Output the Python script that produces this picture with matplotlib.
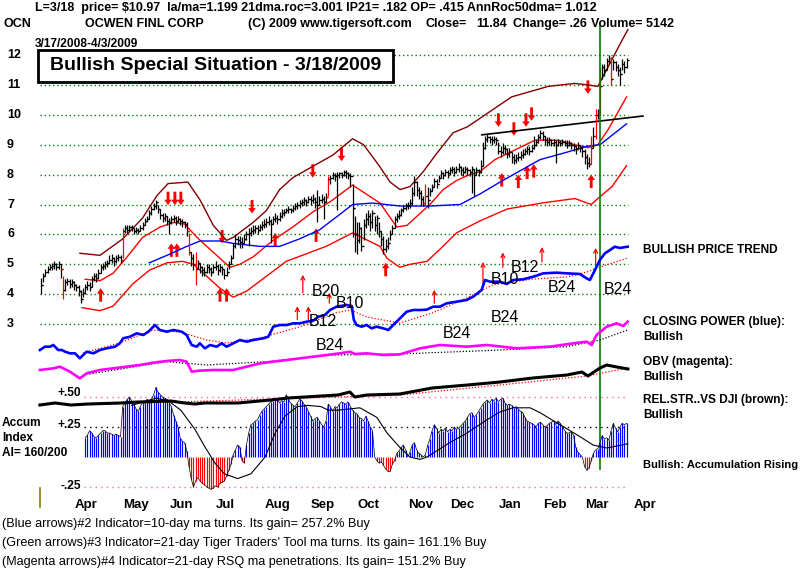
import numpy as np
import pandas as pd
import matplotlib
matplotlib.use("Agg")
import matplotlib.pyplot as plt
import matplotlib.transforms as mtrans
from matplotlib.patches import Rectangle
from matplotlib.lines import Line2D

W, H = 800, 571
BOLD = ["Liberation Sans", "DejaVu Sans"]

# trading calendar 3/17/2008 - 4/3/2009
holidays = ["2008-03-21", "2008-05-26", "2008-07-04", "2008-09-01", "2008-11-27",
            "2008-12-25", "2009-01-01", "2009-01-19", "2009-02-16"]
days = pd.bdate_range("2008-03-17", "2009-04-03")
days = days[~days.isin(pd.to_datetime(holidays))]
signal_day = "2009-03-18"

# daily bars
closes = [
    4.3, 4.6, 4.75, 4.85, 4.9, 4.95, 5.0, 4.9, 5.0, 4.85,
    4.15, 4.4, 4.45, 4.35, 4.4, 4.3, 4.25, 4.1, 3.85, 4.05,
    4.25, 4.3, 4.25, 4.5, 4.6, 4.55, 4.7, 4.9, 4.95, 5.0,
    5.05, 5.15, 5.2, 5.1, 5.2, 5.25, 5.15, 6.1, 6.2, 6.15,
    6.25, 6.2, 6.1, 6.15, 6.1, 6.2, 6.3, 6.45, 6.5, 6.7,
    6.85, 6.95, 7.1, 6.85, 6.65, 6.55, 6.6, 6.45, 6.4, 6.5,
    6.55, 6.45, 6.5, 6.45, 6.4, 6.35, 6.1, 5.4, 5.2, 5.0,
    4.85, 5.05, 4.9, 4.8, 4.75, 4.9, 4.85, 4.75, 4.9, 4.95,
    4.8, 4.9, 4.85, 4.65, 4.75, 5.0, 5.2, 5.6, 5.85, 5.8,
    5.75, 5.7, 5.85, 6.0, 6.05, 6.1, 6.15, 6.2, 6.15, 6.25,
    6.3, 6.35, 6.4, 6.45, 6.35, 6.5, 6.55, 6.5, 6.6, 6.7,
    6.75, 6.8, 6.85, 6.8, 6.9, 6.95, 7.0, 7.05, 7.1, 7.15,
    7.1, 7.2, 7.15, 7.2, 7.1, 7.0, 7.15, 7.2, 7.1, 7.25,
    7.85, 7.9, 8.0, 7.95, 8.0, 8.05, 8.0, 8.1, 8.05, 8.0,
    7.95, 6.9, 6.0, 5.8, 6.2, 5.6, 6.3, 6.5, 6.6, 6.4,
    6.7, 6.3, 6.55, 6.1, 5.85, 5.5, 5.6, 5.7, 6.0, 6.2,
    6.5, 6.6, 6.65, 6.8, 6.9, 6.95, 7.0, 7.05, 7.4, 7.75,
    7.5, 7.4, 7.2, 7.05, 7.3, 7.15, 7.45, 7.6, 7.8, 7.7,
    7.9, 8.05, 8.0, 8.1, 8.05, 8.15, 8.2, 8.1, 8.2, 8.25,
    8.15, 8.1, 8.2, 8.15, 8.1, 8.2, 8.0, 8.15, 8.1, 8.3,
    8.9, 9.2, 9.25, 9.2, 9.15, 9.2, 9.15, 8.8, 8.75, 8.9,
    8.85, 8.7, 8.75, 8.6, 8.5, 8.55, 8.6, 8.65, 8.7, 8.8,
    8.85, 8.8, 8.9, 9.0, 9.1, 9.25, 9.4, 9.3, 9.15, 9.1,
    9.15, 9.05, 9.1, 9.0, 9.1, 9.05, 9.1, 9.05, 9.0, 9.05,
    9.0, 8.95, 8.85, 9.0, 8.9, 8.8, 8.6, 8.4, 8.35, 8.9,
    9.3, 10.0, 10.1, 10.97, 11.6, 11.5, 11.8, 11.9, 11.2, 11.75,
    11.6, 11.5, 11.35, 11.7, 11.6, 11.84,
]
highs = [
    4.55, 4.7, 4.85, 4.95, 5.0, 5.05, 5.1, 5.05, 5.1, 5.0,
    4.6, 4.5, 4.55, 4.5, 4.5, 4.45, 4.35, 4.3, 4.15, 4.2,
    4.35, 4.45, 4.4, 4.6, 4.7, 4.7, 4.85, 5.0, 5.05, 5.1,
    5.15, 5.3, 5.35, 5.25, 5.3, 5.35, 5.3, 6.2, 6.3, 6.3,
    6.3, 6.3, 6.2, 6.25, 6.2, 6.3, 6.4, 6.55, 6.6, 6.8,
    6.95, 7.05, 7.15, 7.0, 6.85, 6.7, 6.7, 6.6, 6.55, 6.6,
    6.65, 6.6, 6.6, 6.55, 6.5, 6.45, 6.4, 6.05, 5.4, 5.35,
    5.4, 5.15, 5.05, 4.95, 4.9, 5.0, 5.0, 4.9, 5.0, 5.1,
    5.0, 5.0, 4.95, 4.85, 4.9, 5.1, 5.3, 5.7, 6.0, 5.95,
    5.95, 5.9, 6.0, 6.1, 6.2, 6.25, 6.3, 6.3, 6.3, 6.35,
    6.45, 6.5, 6.55, 6.6, 6.5, 6.6, 6.7, 6.65, 6.75, 6.85,
    6.85, 6.9, 6.95, 6.9, 7.0, 7.05, 7.1, 7.15, 7.2, 7.25,
    7.2, 7.3, 7.3, 7.35, 7.25, 7.5, 7.3, 7.35, 7.3, 7.4,
    7.95, 8.0, 8.1, 8.05, 8.1, 8.1, 8.1, 8.15, 8.15, 8.1,
    8.05, 7.7, 6.6, 6.4, 6.4, 6.25, 6.5, 6.7, 6.8, 6.7,
    6.8, 6.6, 6.65, 6.4, 6.1, 5.95, 5.85, 5.9, 6.15, 6.3,
    6.6, 6.7, 6.8, 6.9, 7.0, 7.05, 7.1, 7.2, 7.6, 7.95,
    7.8, 7.6, 7.5, 7.3, 7.7, 7.6, 7.55, 7.7, 7.9, 7.85,
    8.0, 8.15, 8.1, 8.2, 8.15, 8.25, 8.3, 8.25, 8.3, 8.4,
    8.3, 8.25, 8.3, 8.25, 8.2, 8.3, 8.2, 8.25, 8.2, 8.5,
    9.1, 9.3, 9.35, 9.3, 9.3, 9.3, 9.25, 9.1, 8.95, 9.05,
    9.0, 8.9, 8.9, 8.75, 8.7, 8.7, 8.75, 8.8, 8.85, 8.9,
    8.95, 8.95, 9.0, 9.3, 9.2, 9.35, 9.5, 9.45, 9.3, 9.25,
    9.25, 9.2, 9.2, 9.15, 9.2, 9.15, 9.2, 9.15, 9.15, 9.15,
    9.1, 9.05, 9.0, 9.1, 9.0, 8.95, 8.85, 8.7, 8.6, 9.3,
    9.6, 10.2, 10.2, 11.55, 11.7, 11.7, 11.9, 12.0, 11.95, 11.85,
    11.8, 11.7, 11.6, 11.85, 11.8, 11.9,
]
lows = [
    4.0, 4.4, 4.6, 4.7, 4.8, 4.8, 4.85, 4.8, 4.85, 4.55,
    3.85, 4.1, 4.3, 4.2, 4.25, 4.15, 4.1, 3.95, 3.7, 3.9,
    4.0, 4.15, 4.1, 4.25, 4.45, 4.4, 4.5, 4.7, 4.8, 4.85,
    4.9, 5.0, 5.05, 4.95, 5.05, 5.1, 5.05, 5.2, 6.05, 6.05,
    6.1, 6.1, 6.0, 6.05, 6.0, 6.1, 6.15, 6.3, 6.4, 6.5,
    6.65, 6.8, 6.85, 6.7, 6.5, 6.4, 6.45, 6.3, 6.0, 6.35,
    6.4, 6.3, 6.4, 6.3, 6.25, 6.2, 5.95, 5.3, 4.95, 4.8,
    4.3, 4.85, 4.7, 4.6, 4.6, 4.7, 4.7, 4.6, 4.7, 4.8,
    4.65, 4.75, 4.65, 4.5, 4.6, 4.85, 5.0, 5.2, 5.55, 5.65,
    5.55, 5.55, 5.7, 5.8, 5.6, 5.95, 6.0, 6.05, 6.0, 6.1,
    6.15, 6.2, 6.25, 6.3, 5.7, 6.35, 6.4, 6.35, 6.45, 6.55,
    6.6, 6.7, 6.7, 6.7, 6.75, 6.8, 6.85, 6.9, 6.95, 7.0,
    6.95, 7.05, 7.0, 7.05, 6.9, 6.4, 7.0, 7.05, 6.5, 7.1,
    7.3, 7.7, 7.85, 7.8, 6.8, 7.9, 7.9, 7.95, 7.9, 7.85,
    7.6, 5.9, 5.4, 5.35, 5.7, 5.45, 5.8, 6.2, 6.3, 6.1,
    6.2, 6.1, 6.0, 5.9, 5.6, 5.35, 5.4, 5.5, 5.8, 6.0,
    6.2, 6.4, 6.5, 6.6, 6.75, 6.8, 6.85, 6.9, 7.0, 7.3,
    7.3, 7.2, 7.0, 6.95, 7.0, 6.9, 7.3, 7.45, 7.6, 7.55,
    7.75, 7.9, 7.85, 7.95, 7.9, 8.0, 8.05, 7.95, 8.05, 8.1,
    8.0, 7.95, 8.05, 8.0, 7.95, 7.4, 7.3, 8.0, 7.95, 8.05,
    8.3, 8.85, 9.1, 9.05, 9.0, 9.05, 9.0, 8.7, 8.6, 8.7,
    8.7, 8.55, 8.6, 8.4, 8.35, 8.4, 8.45, 8.5, 8.55, 8.65,
    8.7, 8.65, 8.75, 8.85, 8.95, 9.05, 9.2, 9.15, 9.0, 8.95,
    9.0, 8.95, 8.95, 8.4, 8.95, 8.95, 9.0, 8.95, 8.9, 8.95,
    8.85, 8.8, 8.7, 8.85, 8.75, 8.6, 8.35, 8.2, 8.25, 8.35,
    8.9, 9.2, 9.85, 10.0, 11.2, 11.3, 11.5, 11.7, 11.0, 11.5,
    11.45, 11.3, 11.0, 11.5, 11.4, 11.55,
]
red_bars = [10, 37, 67, 70, 130, 174, 249, 251, 253, 258]

# bands around price (day index, price)
upper_x = [17.6, 26.7, 37, 46, 52.5, 57.5, 66.5, 72, 78, 84, 87, 91.5, 96, 102, 108, 114, 120, 132,
           141, 146, 153, 158, 162.5, 167, 173, 179, 186.5, 193, 201, 213, 229.5, 241.5, 247.5, 252, 263, 265.6]
upper_y = [5.37, 5.3, 5.85, 6.55, 7.3, 7.7, 7.75, 7.15, 6.3, 5.8, 5.9, 6.15, 6.4, 6.8, 7.5, 7.9, 8.15, 8.65,
           9.2, 9.0, 8.3, 7.75, 7.5, 7.6, 8.1, 8.7, 9.4, 9.6, 10.0, 10.6, 10.95, 11.05, 11.0, 10.95, 12.5, 12.85]
inner_x = [20, 26.7, 32.6, 39, 46, 54, 60, 65, 70.6, 78, 85.5, 90, 96, 105, 114, 123, 131, 141,
           153.4, 161, 165.6, 171.5, 176, 182, 188, 194, 198.6, 205.4, 211, 223.5, 234, 241.6, 247.5, 252, 256.6, 265]
inner_y = [4.5, 4.45, 4.7, 5.25, 5.9, 6.25, 6.4, 6.35, 5.9, 5.4, 4.9, 5.0, 5.25, 5.8, 6.25, 6.75, 7.1, 7.65,
           7.05, 6.25, 6.3, 6.7, 7.0, 7.5, 7.8, 8.0, 8.1, 8.5, 8.7, 9.15, 9.15, 9.0, 8.9, 9.0, 9.5, 10.6]
ma50_x = [49, 57, 66, 72, 81, 87, 99, 108, 117, 126, 134, 141, 150, 162.4, 176, 189.6, 198.6, 207.7,
          225.8, 238, 247, 253, 265]
ma50_y = [5.05, 5.3, 5.6, 5.78, 5.78, 5.7, 5.6, 5.6, 5.85, 6.15, 6.6, 7.0, 7.05, 6.95, 6.95, 7.0, 7.35, 7.75,
          8.5, 8.75, 8.95, 9.0, 9.7]
lower_x = [18.6, 26.7, 32.6, 41.6, 49, 57, 64, 69, 75, 81, 87, 93, 102, 111, 120, 129, 141, 153.4,
           156.6, 162.4, 167, 174.7, 180.5, 188, 198.6, 211, 226.7, 241.6, 249, 252, 258.4, 265]
lower_y = [3.55, 3.45, 3.6, 4.35, 4.8, 5.05, 5.1, 5.0, 4.6, 4.2, 3.9, 4.1, 4.6, 5.1, 5.35, 5.6, 6.05, 5.6,
           5.2, 4.9, 5.0, 5.1, 5.5, 6.05, 6.45, 6.85, 7.05, 7.2, 7.0, 7.2, 7.6, 8.3]
trend_x = [199.5, 272.4]
trend_y = [9.33, 9.96]

# signal arrows
buy_x = [27, 59, 61.5, 81, 84, 106, 124.5, 156, 208.5, 216, 220, 223, 249]
buy_tip = [4.2, 5.7, 5.7, 4.2, 4.2, 6.05, 6.2, 5.05, 8.05, 8.0, 8.3, 8.35, 8.0]
sell_x = [57.5, 60.6, 63.3, 82, 95.5, 123, 136, 207, 214, 219.5, 222, 247.5]
sell_tip = [6.98, 6.98, 6.98, 5.7, 6.7, 7.9, 8.45, 9.6, 9.3, 9.6, 9.8, 10.7]
thin_x = [116, 118.5, 121, 130.5, 178, 200, 209, 226.7, 251]
thin_tip = [3.6, 4.65, 3.6, 4.05, 4.15, 5.08, 5.4, 5.58, 5.55]
thin_base = [3.15, 4.05, 3.15, 3.7, 3.7, 4.4, 4.9, 5.08, 4.9]

# closing power
cp_x = [-0.45, 1.8, 4.1, 5.6, 7.8, 9.4, 10.9, 13.1, 15.4, 17.6,
        19.1, 20.7, 23.7, 26.7, 29.7, 33.5, 35.7, 37.2, 40.3, 43.3,
        46.3, 48.6, 51.6, 53.8, 56.9, 59.9, 63.7, 65.9, 68.2, 70.5,
        71.9, 74.2, 76.5, 79.5, 81.8, 84.0, 87.0, 90.0, 93.1, 96.1,
        100.6, 102.9, 105.1, 108.1, 111.2, 114.2, 117.2, 120.2, 123.2, 125.5,
        128.5, 130.8, 133.8, 138.3, 140.6, 141.6, 142.8, 145.1, 147.4, 149.6,
        151.9, 154.9, 157.2, 159.4, 161.7, 165.5, 168.5, 171.5, 174.5, 177.5,
        180.5, 183.6, 188.1, 192.6, 195.6, 199.4, 200.9, 203.2, 207.7, 210.7,
        213.7, 218.2, 222.8, 227.3, 233.3, 237.9, 243.9, 246.9, 248.4, 250.7,
        252.9, 255.2, 257.5, 259.7, 262.0, 265.5]
cp_y = [2.5, 3.33, 3.33, 3.75, 2.5, 2.5, 2.08, 1.67, 1.67, 0.42,
        1.25, 2.08, 1.67, 2.5, 2.92, 3.33, 4.17, 5.42, 5.83, 6.67,
        6.25, 7.08, 8.75, 7.5, 7.08, 7.5, 7.08, 6.25, 3.75, 3.33,
        4.17, 2.92, 3.75, 3.33, 4.17, 3.33, 4.17, 5.0, 4.58, 5.0,
        5.42, 5.83, 8.33, 8.75, 8.75, 9.17, 9.17, 9.58, 9.83, 10.83,
        11.25, 12.5, 13.33, 13.75, 13.5, 10.0, 8.75, 8.33, 8.75, 7.92,
        8.33, 7.92, 7.5, 8.75, 10.0, 12.08, 12.5, 12.5, 12.58, 13.33,
        13.33, 14.17, 14.58, 15.0, 15.83, 17.5, 20.0, 19.58, 19.58, 19.0,
        20.0, 20.17, 20.83, 21.67, 21.83, 21.67, 21.5, 20.42, 20.0, 22.5,
        25.0, 26.67, 27.5, 28.33, 28.0, 28.33]
cp_ma_x = [19, 35.7, 50.7, 62.9, 75, 84, 99, 117, 133, 140, 147.5, 154.8, 162.4, 177, 192.6, 204.4,
           222.6, 238, 247, 253, 265.6]
cp_ma_y = [1.75, 4.25, 7.5, 7.0, 5.0, 4.25, 5.5, 8.25, 11.75, 12.5, 10.75, 10.0, 9.25, 11.75, 15.5, 18.75,
           20.25, 20.75, 22.0, 23.25, 25.5]

# on-balance volume
obv_x = [-0.45, 5.6, 8.6, 13.1, 17.6, 20.7, 26.7, 32.7, 38.8, 44.8,
         50.8, 56.9, 62.9, 65.9, 68.2, 71.9, 78.0, 87.0, 93.1, 99.1,
         105.1, 111.2, 117.2, 123.2, 129.3, 135.3, 139.8, 142.1, 147.4, 154.9,
         162.4, 171.5, 180.5, 192.6, 201.7, 215.3, 230.3, 240.9, 246.9, 249.2,
         251.4, 256.0, 260.5, 263.5, 265.5]
obv_y = [5.0, 5.83, 6.67, 4.17, 0.83, 3.33, 5.0, 5.83, 6.67, 7.5,
         8.67, 9.5, 10.0, 9.17, 4.17, 4.67, 5.0, 5.0, 6.67, 8.33,
         9.17, 10.0, 10.83, 11.67, 12.5, 13.33, 14.17, 13.0, 13.33, 12.5,
         12.8, 15.83, 17.5, 16.67, 17.5, 15.83, 16.67, 18.33, 19.17, 17.5,
         22.5, 26.67, 28.33, 27.0, 29.17]
obv_ma_x = [19.1, 56.9, 75.0, 102.1, 132.0, 162.4, 207.7, 237.9, 252.9, 265.5]
obv_ma_y = [2.5, 9.17, 7.5, 9.17, 12.5, 13.0, 15.0, 16.67, 20.0, 25.0]

# relative strength vs DJI
rs_x = [-0.5, 6.3, 13.6, 21.3, 36, 44, 58.8, 65, 69.7, 74, 89, 104, 111.8, 119.5, 126.7, 134.4,
        139.8, 142, 147.5, 162.4, 177, 193, 207.7, 222.6, 238, 244.8, 247.5, 253, 256, 260.6, 265.6]
rs_y = [7.5, 8.5, 7.5, 8.0, 8.5, 9.0, 9.5, 8.5, 8.0, 8.5, 8.5, 10.0, 11.0, 11.5, 12.0, 12.5,
        14.0, 11.5, 12.5, 13.0, 16.0, 17.5, 19.0, 21.0, 22.5, 24.0, 22.0, 26.0, 27.5, 26.5, 25.5]
rs_ma_x = [17, 134, 162.4, 207.7, 247, 265.6]
rs_ma_y = [7.5, 11.5, 12.5, 17.5, 22.0, 26.0]

# accumulation index, daily from day 20
ai_start = 20
ai = [
    0.16, 0.18, 0.22, 0.20, 0.17, 0.16, 0.18, 0.20, 0.22, 0.22,
    0.20, 0.20, 0.19, 0.18, 0.19, 0.18, 0.17, 0.42, 0.45, 0.48,
    0.50, 0.47, 0.44, 0.40, 0.38, 0.42, 0.46, 0.45, 0.48, 0.47,
    0.48, 0.52, 0.58, 0.54, 0.52, 0.50, 0.49, 0.48, 0.45, 0.42,
    0.35, 0.30, 0.25, 0.16, 0.13, 0.12, 0.05, -0.08, -0.18, -0.25,
    -0.20, -0.17, -0.20, -0.22, -0.23, -0.25, -0.26, -0.27, -0.26, -0.24,
    -0.25, -0.22, -0.21, -0.20, -0.16, -0.11, -0.06, 0.02, 0.06, 0.10,
    0.08, -0.03, -0.05, 0.10, 0.20, 0.27, 0.28, 0.30, 0.31, 0.35,
    0.38, 0.40, 0.42, 0.44, 0.46, 0.47, 0.48, 0.48, 0.45, 0.47,
    0.46, 0.52, 0.48, 0.45, 0.43, 0.42, 0.45, 0.48, 0.47, 0.44,
    0.42, 0.38, 0.34, 0.30, 0.32, 0.33, 0.30, 0.27, 0.25, 0.30,
    0.44, 0.42, 0.38, 0.42, 0.41, 0.44, 0.46, 0.45, 0.44, 0.46,
    0.42, 0.39, 0.37, 0.36, 0.33, 0.32, 0.30, 0.34, 0.30, 0.25,
    0.22, 0.00, -0.03, -0.05, -0.04, -0.07, -0.10, -0.12, -0.12, -0.06,
    -0.03, 0.03, 0.05, 0.08, 0.10, 0.06, 0.00, 0.04, 0.10, 0.12,
    0.06, 0.03, 0.02, 0.00, 0.02, 0.10, 0.15, 0.22, 0.27, 0.24,
    0.20, 0.23, 0.22, 0.24, 0.21, 0.23, 0.22, 0.25, 0.23, 0.24,
    0.26, 0.28, 0.30, 0.33, 0.36, 0.37, 0.33, 0.35, 0.38, 0.41,
    0.44, 0.46, 0.475, 0.45, 0.48, 0.47, 0.49, 0.46, 0.48, 0.49,
    0.45, 0.43, 0.44, 0.43, 0.41, 0.42, 0.40, 0.38, 0.37, 0.33,
    0.30, 0.29, 0.28, 0.27, 0.25, 0.28, 0.29, 0.27, 0.25, 0.26,
    0.28, 0.29, 0.30, 0.27, 0.30, 0.28, 0.25, 0.22, 0.20, 0.20,
    0.21, 0.18, 0.08, 0.04, 0.02, 0.00, -0.08, -0.11, -0.09, -0.03,
    0.03, 0.06, 0.07, 0.12, 0.18, 0.15, 0.16, 0.14, 0.22, 0.28,
    0.24, 0.21, 0.25, 0.28, 0.27, 0.28,
]
ai_ma_x = [41, 52, 57.5, 63.3, 69.7, 74, 78.7, 83, 86, 89, 95, 101.4, 106, 110.4, 116, 120.8, 126.7, 130,
           134.4, 144.3, 152, 156.6, 162.4, 167, 171.5, 174.7, 185, 192.8, 201.8, 207.7, 213.6, 221.3,
           225.8, 234.8, 243.9, 249.8, 256, 265.6]
ai_ma_y = [0.43, 0.49, 0.47, 0.39, 0.23, 0.09, -0.05, -0.14, -0.16, -0.18, -0.14, 0.0, 0.2, 0.34, 0.42,
           0.43, 0.42, 0.39, 0.39, 0.41, 0.33, 0.2, 0.08, 0.0, -0.02, 0.0, 0.12, 0.2, 0.31, 0.375, 0.41,
           0.41, 0.37, 0.27, 0.17, 0.1, 0.075, 0.11]

b_labels = ["B20", "B10", "B12", "B24", "B24", "B24", "B10", "B12", "B24", "B24"]
b_pos = [(326, 292), (350, 304), (323, 322), (330, 346), (457, 333), (505, 317),
         (505, 279), (525, 268), (562, 288), (618, 289)]

header1 = "L=3/18  price= $10.97  la/ma=1.199 21dma.roc=3.001 IP21= .182 OP= .415 AnnRoc50dma= 1.012"
header2 = [("OCN", 3), ("OCWEN FINL CORP", 85), ("(C) 2009 www.tigersoft.com", 248),
           ("Close=", 425), ("11.84", 476), ("Change= .26", 513), ("Volume= 5142", 591)]
footer = ["(Blue arrows)#2 Indicator=10-day ma turns. Its gain= 257.2% Buy",
          "(Green arrows)#3 Indicator=21-day Tiger Traders' Tool ma turns. Its gain= 161.1% Buy",
          "(Magenta arrows)#4 Indicator=21-day RSQ ma penetrations. Its gain= 151.2% Buy"]

fig = plt.figure(figsize=(W / 100, H / 100), dpi=100)
fig.patch.set_facecolor("white")


def overlay(lo, hi):
    a = fig.add_axes([35 / W, 1 - 490 / H, 615 / W, 470 / H])
    a.set_xlim(-2.7, 275.6)
    a.set_ylim(lo, hi)
    a.axis("off")
    return a


def put(x, y, s, **kw):
    kw.setdefault("va", "center")
    fig.text(x / W, 1 - y / H, s, **kw)


n = len(closes)
x = np.arange(n)
sig = days.get_loc(pd.Timestamp(signal_day))

# ---- price panel
ax = overlay(-2.548, 13.171)
ax.hlines(range(3, 13), -0.5, 265.6, colors="#008000", linestyles=(0, (1, 2)), lw=1)
ax.plot(upper_x, upper_y, color="#800000", lw=1)
ax.plot(inner_x, inner_y, color="#ff0000", lw=1)
ax.plot(lower_x, lower_y, color="#ff0000", lw=1)
ax.plot(ma50_x, ma50_y, color="#0000ff", lw=1)
ax.plot(trend_x, trend_y, color="black", lw=1.2)
cols = ["#ff0000" if i in red_bars else "black" for i in x]
ax.vlines(x, lows, highs, colors=cols, lw=0.9)
ax.hlines(closes, x, x + 0.9, colors=cols, lw=0.9)
ax.hlines(closes[:-1], x[1:] - 0.9, x[1:], colors=cols[1:], lw=0.9)
for bx, tip in zip(buy_x, buy_tip):
    ax.arrow(bx, tip - 0.45, 0, 0.45, width=1.3, head_width=3.4, head_length=0.18,
             length_includes_head=True, color="#ff0000", lw=0)
for sx, tip in zip(sell_x, sell_tip):
    ax.arrow(sx, tip + 0.45, 0, -0.45, width=1.3, head_width=3.4, head_length=0.18,
             length_includes_head=True, color="#ff0000", lw=0)
for tx, tip, base in zip(thin_x, thin_tip, thin_base):
    ax.annotate("", xy=(tx, tip), xytext=(tx, base),
                arrowprops=dict(arrowstyle="->", color="#ff0000", lw=0.9,
                                shrinkA=0, shrinkB=0, mutation_scale=7))
ax.vlines(sig, -1.88, 13.0, colors="#008000", lw=1.2, zorder=4)

ylab = mtrans.blended_transform_factory(fig.transFigure, ax.transData)
for p in range(3, 13):
    ax.text(7 / W, p, str(p), transform=ylab, va="center", ha="left",
            family=BOLD, weight="bold", fontsize=9)

# ---- closing power
ax_cp = overlay(-32.5, 85)
ax_cp.plot(cp_ma_x, cp_ma_y, color="#ff0000", lw=0.9, ls=(0, (1, 1.5)))
ax_cp.plot(cp_x, cp_y, color="#0000ff", lw=1.9)

# ---- OBV
ax_obv = overlay(-55, 180)
ax_obv.plot(obv_ma_x, obv_ma_y, color="black", lw=0.9, ls=(0, (1, 1.5)))
ax_obv.plot(obv_x, obv_y, color="#ff00ff", lw=1.9)

# ---- accumulation index
ax_ai = overlay(-0.275, 3.6417)
ax_ai.hlines([0.5, -0.25], 19.5, 265.6, colors="#ff66aa", linestyles=(0, (1, 3)), lw=1)
ax_ai.hlines([0.25], 19.5, 265.6, colors="black", linestyles=(0, (1, 3)), lw=1)
ai_x = np.arange(ai_start, ai_start + len(ai))
ai_cols = ["#0000ff" if v >= 0 else "#ff0000" for v in ai]
ax_ai.vlines(ai_x, 0, ai, colors=ai_cols, lw=0.85)
ax_ai.plot(ai_x, ai, color="black", lw=0.5)
ax_ai.plot(ai_ma_x, ai_ma_y, color="black", lw=0.8)

# ---- relative strength
ax_rs = overlay(-35, 200)
ax_rs.plot(rs_ma_x, rs_ma_y, color="#ff0000", lw=0.9, ls=(0, (1, 1.5)))
ax_rs.plot(rs_x, rs_y, color="black", lw=2.2)

# month labels
pos = pd.Series(np.arange(len(days)), index=days)
firsts = pos.groupby([days.year, days.month]).first().iloc[1:]
mtr = mtrans.blended_transform_factory(ax_ai.transData, ax_ai.transAxes)
for i in firsts.values:
    ax_ai.text(i + 5.2, -0.032, days[i].strftime("%b"), transform=mtr, ha="left", va="center",
               family=BOLD, weight="bold", fontsize=9.5)

# ---- texts
put(35, 8, header1, family=BOLD, weight="bold", fontsize=9)
for s, xx in header2:
    put(xx, 24, s, family=BOLD, weight="bold", fontsize=9)
put(35, 44, "3/17/2008-4/3/2009", family=BOLD, weight="bold", fontsize=8.6)

fig.add_artist(Rectangle((38 / W, 1 - 82 / H), 355 / W, 32 / H, transform=fig.transFigure,
                         facecolor="white", edgecolor="black", lw=2, zorder=5))
put(216, 66, "Bullish Special Situation - 3/18/2009", ha="center", family=BOLD,
    weight="bold", fontsize=14, zorder=6)

for s, (bx, by) in zip(b_labels, b_pos):
    put(bx, by, s, ha="center", family=BOLD, fontsize=11.5, zorder=6)

right = [("BULLISH PRICE TREND", 250), ("CLOSING POWER (blue):", 322), ("Bullish", 337),
         ("OBV (magenta):", 362), ("Bullish", 377), ("REL.STR..VS DJI (brown):", 400),
         ("Bullish", 415)]
for s, yy in right:
    put(643, yy, s, family=BOLD, weight="bold", fontsize=8.6)
put(643, 465, "Bullish: Accumulation Rising", family=BOLD, weight="bold", fontsize=8.0)

for s, yy in [("Accum", 423), ("Index", 438), ("AI= 160/200", 453)]:
    put(2, yy, s, family=BOLD, weight="bold", fontsize=8.6)
for s, yy in [("+.50", 393), ("+.25", 425), ("-.25", 486)]:
    put(81, yy, s, ha="right", family=BOLD, weight="bold", fontsize=8.6)

fig.add_artist(Line2D([40 / W, 40 / W], [1 - 488 / H, 1 - 507 / H], color="#808000", lw=1.2))

for k, s in enumerate(footer):
    put(2, 524 + 19 * k, s, family=BOLD, fontsize=9.1)

fig.savefig("out.png", dpi=100, facecolor="white")
